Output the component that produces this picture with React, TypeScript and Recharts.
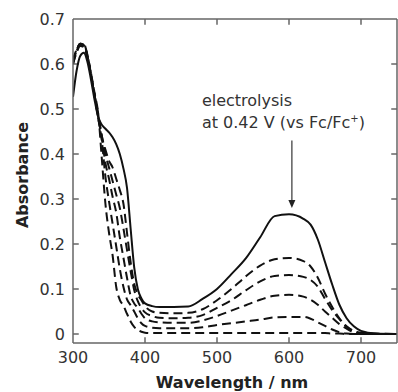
import React from 'react';
import { LineChart, Line, XAxis, YAxis, ReferenceLine, ReferenceDot } from 'recharts';

// wavelength grid (nm)
const wavelengths = [300, 305, 310, 315, 320, 325, 330, 335, 340, 345, 350, 355, 360, 365, 370, 375, 380, 385, 390, 395, 400, 410, 420, 440, 460, 480, 500, 520, 540, 560, 580, 600, 620, 630, 640, 650, 660, 670, 680, 690, 700, 720, 750];

// after electrolysis (solid)
const solid = [0.527, 0.585, 0.618, 0.625, 0.605, 0.565, 0.52, 0.482, 0.465, 0.456, 0.448, 0.437, 0.422, 0.4, 0.368, 0.325, 0.235, 0.148, 0.1, 0.079, 0.068, 0.062, 0.06, 0.06, 0.061, 0.078, 0.1, 0.133, 0.168, 0.215, 0.262, 0.266, 0.256, 0.243, 0.21, 0.16, 0.11, 0.065, 0.035, 0.017, 0.007, 0.001, 0];

// intermediate spectra (dashed), highest to lowest
const dash1 = [0.6, 0.625, 0.64, 0.638, 0.615, 0.575, 0.53, 0.49, 0.44, 0.41, 0.385, 0.37, 0.345, 0.32, 0.29, 0.225, 0.16, 0.112, 0.088, 0.075, 0.062, 0.05, 0.047, 0.046, 0.047, 0.055, 0.075, 0.1, 0.128, 0.152, 0.166, 0.169, 0.162, 0.15, 0.125, 0.09, 0.06, 0.035, 0.017, 0.007, 0.003, 0.001, 0];
const dash2 = [0.605, 0.63, 0.643, 0.64, 0.615, 0.575, 0.53, 0.485, 0.44, 0.4, 0.37, 0.34, 0.31, 0.28, 0.235, 0.187, 0.14, 0.098, 0.073, 0.058, 0.048, 0.04, 0.036, 0.035, 0.036, 0.042, 0.058, 0.075, 0.097, 0.117, 0.129, 0.131, 0.127, 0.12, 0.105, 0.078, 0.053, 0.033, 0.016, 0.006, 0.002, 0, 0];
const dash3 = [0.61, 0.632, 0.645, 0.642, 0.618, 0.575, 0.528, 0.48, 0.435, 0.38, 0.345, 0.305, 0.27, 0.215, 0.17, 0.125, 0.085, 0.068, 0.058, 0.045, 0.035, 0.028, 0.026, 0.025, 0.025, 0.03, 0.04, 0.052, 0.064, 0.076, 0.085, 0.087, 0.083, 0.076, 0.065, 0.05, 0.036, 0.022, 0.012, 0.004, 0.001, 0, 0];
const dash4 = [0.605, 0.63, 0.645, 0.643, 0.62, 0.578, 0.53, 0.48, 0.43, 0.35, 0.295, 0.245, 0.195, 0.145, 0.105, 0.077, 0.064, 0.05, 0.035, 0.024, 0.018, 0.014, 0.013, 0.013, 0.013, 0.015, 0.02, 0.024, 0.028, 0.032, 0.037, 0.038, 0.038, 0.034, 0.026, 0.018, 0.01, 0.004, 0.001, 0, 0, 0, 0];
const dash5 = [0.6, 0.628, 0.645, 0.645, 0.62, 0.58, 0.535, 0.49, 0.39, 0.29, 0.225, 0.175, 0.105, 0.076, 0.063, 0.045, 0.028, 0.016, 0.009, 0.005, 0.003, 0.002, 0.002, 0.002, 0.002, 0.002, 0.002, 0.002, 0.002, 0.002, 0.002, 0.002, 0.002, 0.002, 0.002, 0.002, 0.001, 0.001, 0, 0, 0, 0, 0];

const xTicks = [300, 400, 500, 600, 700];
const yTicks = [0, 0.1, 0.2, 0.3, 0.4, 0.5, 0.6, 0.7];

const X_DOMAIN = [300, 750];
const Y_DOMAIN = [-0.02, 0.7];

const data = wavelengths.map((w, i) => ({
  w,
  s: solid[i],
  d1: dash1[i],
  d2: dash2[i],
  d3: dash3[i],
  d4: dash4[i],
  d5: dash5[i],
}));

const FONT = '"DejaVu Sans", sans-serif';
const AXIS = '#666';
const TXT = '#333';
// inward tick length, in data units (about 6 px)
const TICK_X = 8;
const TICK_Y = 0.013;

const BottomLabel = ({ x, y, payload }: any) => (
  <text x={x} y={y + 9} dy="0.71em" textAnchor="middle" fill={TXT} fontFamily={FONT} fontSize={16}>
    {payload.value}
  </text>
);

const LeftLabel = ({ x, y, payload }: any) => (
  <text x={x - 8} y={y} dy="0.36em" textAnchor="end" fill={TXT} fontFamily={FONT} fontSize={16}>
    {payload.value === 0 ? '0' : payload.value.toFixed(1)}
  </text>
);

const Arrow = (props: any) => {
  const { x1, y1, x2, y2 } = props;
  return (
    <g>
      <line x1={x1} y1={y1} x2={x2} y2={y2 - 7} stroke="#444" strokeWidth={1.3} />
      <path d={`M${x2 - 3.5},${y2 - 8} L${x2 + 3.5},${y2 - 8} L${x2},${y2} Z`} fill="#222" />
    </g>
  );
};

const Note = (props: any) => {
  const { cx, cy } = props;
  return (
    <text x={cx} y={cy} fill={TXT} fontFamily={FONT} fontSize={16}>
      <tspan x={cx} dy={0}>electrolysis</tspan>
      <tspan x={cx} dy={22}>at 0.42 V (vs Fc/Fc</tspan>
      <tspan fontSize={10} dy={-6}>+</tspan>
      <tspan dy={6}>)</tspan>
    </text>
  );
};

export default function App() {
  const dashed = ['d1', 'd2', 'd3', 'd4', 'd5'];
  const [x0, x1] = X_DOMAIN;
  const [y0, y1] = Y_DOMAIN;
  return (
    <div style={{ position: 'absolute', left: 0, top: 0, background: '#fff' }}>
      <LineChart width={398} height={392} data={data} margin={{ top: 18, right: 0, bottom: 0, left: 0 }}>
        <XAxis
          dataKey="w"
          type="number"
          domain={X_DOMAIN}
          ticks={xTicks}
          allowDataOverflow
          height={49}
          stroke={AXIS}
          strokeWidth={1.5}
          tickLine={false}
          tickSize={0}
          tickMargin={0}
          tick={BottomLabel}
          label={{
            content: () => (
              <text x={232} y={388} textAnchor="middle" fill="#222" fontFamily={FONT} fontSize={16} fontWeight="bold">
                Wavelength / nm
              </text>
            ),
          }}
        />
        <XAxis
          xAxisId="top"
          orientation="top"
          dataKey="w"
          type="number"
          domain={X_DOMAIN}
          ticks={xTicks}
          height={1}
          stroke={AXIS}
          strokeWidth={1.5}
          tickLine={false}
          tick={false}
        />
        <YAxis
          type="number"
          domain={Y_DOMAIN}
          ticks={yTicks}
          allowDataOverflow
          width={73}
          stroke={AXIS}
          strokeWidth={1.5}
          tickLine={false}
          tickSize={0}
          tickMargin={0}
          tick={LeftLabel}
          label={{
            content: () => (
              <text
                x={28}
                y={175}
                transform="rotate(-90, 28, 175)"
                textAnchor="middle"
                fill="#222"
                fontFamily={FONT}
                fontSize={16}
                fontWeight="bold"
              >
                Absorbance
              </text>
            ),
          }}
        />
        <YAxis
          yAxisId="right"
          orientation="right"
          type="number"
          domain={Y_DOMAIN}
          ticks={yTicks}
          width={1}
          stroke={AXIS}
          strokeWidth={1.5}
          tickLine={false}
          tick={false}
        />
        {/* inward tick marks on all four sides of the frame */}
        {xTicks.filter((t) => t > x0).map((t) => (
          <ReferenceLine key={`b${t}`} segment={[{ x: t, y: y0 }, { x: t, y: y0 + TICK_Y }]} stroke={AXIS} strokeWidth={1.5} />
        ))}
        {xTicks.filter((t) => t > x0).map((t) => (
          <ReferenceLine key={`t${t}`} segment={[{ x: t, y: y1 }, { x: t, y: y1 - TICK_Y }]} stroke={AXIS} strokeWidth={1.5} />
        ))}
        {yTicks.filter((t) => t < y1).map((t) => (
          <ReferenceLine key={`l${t}`} segment={[{ x: x0, y: t }, { x: x0 + TICK_X, y: t }]} stroke={AXIS} strokeWidth={1.5} />
        ))}
        {yTicks.filter((t) => t < y1).map((t) => (
          <ReferenceLine key={`r${t}`} segment={[{ x: x1, y: t }, { x: x1 - TICK_X, y: t }]} stroke={AXIS} strokeWidth={1.5} />
        ))}
        {dashed.map((k) => (
          <Line
            key={k}
            dataKey={k}
            type="monotone"
            stroke="#111"
            strokeWidth={2}
            strokeDasharray="9 5"
            dot={false}
            isAnimationActive={false}
          />
        ))}
        <Line dataKey="s" type="monotone" stroke="#111" strokeWidth={2} dot={false} isAnimationActive={false} />
        <ReferenceLine
          segment={[
            { x: 604, y: 0.43 },
            { x: 604, y: 0.28 },
          ]}
          shape={Arrow}
        />
        <ReferenceDot x={479} y={0.507} r={0} shape={Note} />
      </LineChart>
    </div>
  );
}
